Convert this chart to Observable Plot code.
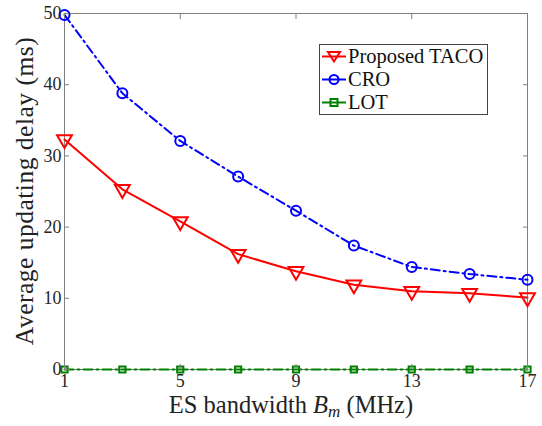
<!DOCTYPE html>
<html><head><meta charset="utf-8">
<script src="https://cdn.jsdelivr.net/npm/d3@7"></script>
<script src="https://cdn.jsdelivr.net/npm/@observablehq/plot@0.6"></script>
<style>
body{margin:0;background:#fff;}
#wrap{position:relative;width:542px;height:426px;}
#legend{position:absolute;left:319px;top:44px;width:167px;height:69px;border:1px solid #444;background:#fff;font-size:20.5px;color:#111;}
#legend .row{position:absolute;left:1px;height:23px;display:flex;align-items:center;white-space:nowrap;}
#legend svg{margin-right:1px}
</style></head>
<body><div id="wrap" style="font-family:'Liberation Serif', serif"><div id="legend" style="font-family:'Liberation Serif', serif"></div></div>
<script>
const bandwidth = [1,3,5,7,9,11,13,15,17];
const taco = [32.3,25.3,20.8,16.2,13.8,11.9,11.0,10.7,10.1];
const cro = [49.8,38.8,32.1,27.1,22.3,17.4,14.4,13.4,12.6];
const lot = [0,0,0,0,0,0,0,0,0];
const xTicks = [1,5,9,13,17];
const yTicks = [0,10,20,30,40,50];
const seriesNames = ["Proposed TACO","CRO","LOT"];
const colors = ["#ff0000","#0000ff","#008000"];
const dashes = [null,"9,4,2,4","9,4,2,4"];
const symbols = ["triangle","circle","square"];
const FONT = "'Liberation Serif', serif";

const allVals = [taco, cro, lot];
const data = [];
seriesNames.forEach((s,i)=>bandwidth.forEach((b,j)=>data.push({s, x:b, y:allVals[i][j]})));

const marks = [Plot.frame({stroke:"#808080", strokeWidth:1})];
seriesNames.forEach((s,i)=>{
  const d = data.filter(r=>r.s===s);
  marks.push(Plot.line(d,{x:"x",y:"y",stroke:colors[i],strokeWidth:2,strokeDasharray:dashes[i]}));
  marks.push(Plot.dot(d,{x:"x",y:"y",stroke:colors[i],strokeWidth:2,fill:"none",symbol:symbols[i],
    r: i===2?3.5:(i===0?5.5:5), rotate: i===0?180:0}));
});
marks.push(Plot.axisX({ticks:xTicks, tickSize:-5, tickPadding:10, stroke:"#808080", fontSize:18, fontFamily:FONT, color:"#262626", label:null}));
marks.push(Plot.axisX({ticks:xTicks, tickSize:-5, anchor:"top", tickFormat:()=>"", stroke:"#808080", label:null}));
marks.push(Plot.axisY({ticks:yTicks, tickSize:-5, tickPadding:8, stroke:"#808080", fontSize:18, fontFamily:FONT, color:"#262626", label:null}));
marks.push(Plot.axisY({ticks:yTicks, tickSize:-5, anchor:"right", tickFormat:()=>"", stroke:"#808080", label:null}));

const chart = Plot.plot({
  width:542, height:426,
  marginLeft:64, marginRight:15, marginTop:13, marginBottom:57,
  style:"font-family:'Liberation Serif', serif; background:#fff; color:#262626;",
  x:{domain:[1,17]},
  y:{domain:[0,50]},
  marks
});
const wrap = document.getElementById("wrap");
wrap.insertBefore(chart, wrap.firstChild);

// axis titles as real text
const svg = d3.select(chart);
svg.append("text").attr("x",291).attr("y",413).attr("text-anchor","middle")
  .style("font-family", FONT)
  .style("font-size","24.5px").attr("fill","#222")
  .html('ES bandwidth <tspan font-style="italic">B</tspan><tspan font-style="italic" font-size="17px" dy="4">m</tspan><tspan dy="-4"> (MHz)</tspan>');
svg.append("text").attr("transform","translate(33,191) rotate(-90)").attr("text-anchor","middle")
  .style("font-family", FONT)
  .style("font-size","25.5px").style("letter-spacing","0.5px").attr("fill","#222").text("Average updating delay (ms)");

// legend
const leg = document.getElementById("legend");
seriesNames.forEach((s,i)=>{
  const row = document.createElement("div");
  row.className="row"; row.style.top = (i*23)+"px";
  let marker;
  if(i===0) marker = `<path d="M13,16.5 L7,7 L19,7 Z" fill="none" stroke="${colors[i]}" stroke-width="2"/>`;
  else if(i===1) marker = `<circle cx="13" cy="11.5" r="4.5" fill="none" stroke="${colors[i]}" stroke-width="2"/>`;
  else marker = `<rect x="9.5" y="8" width="7" height="7" fill="none" stroke="${colors[i]}" stroke-width="2"/>`;
  row.innerHTML = `<svg width="26" height="23"><line x1="1" x2="25" y1="11.5" y2="11.5" stroke="${colors[i]}" stroke-width="2"/>${marker}</svg><span>${s}</span>`;
  leg.appendChild(row);
});
</script></body></html>
